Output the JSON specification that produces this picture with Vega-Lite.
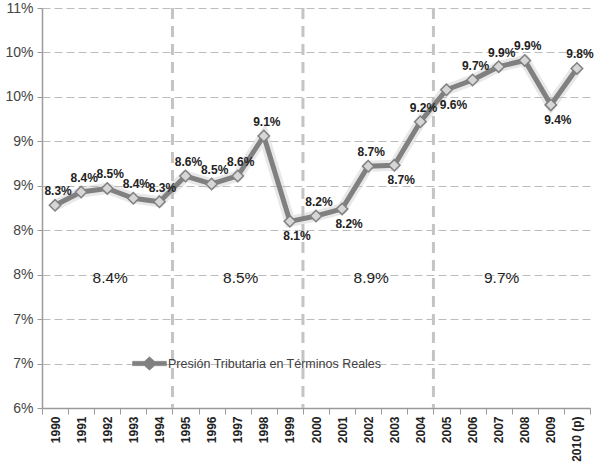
{
  "$schema": "https://vega.github.io/schema/vega-lite/v6.json",
  "width": 548,
  "height": 400,
  "autosize": {"type": "none"},
  "padding": {"left": 42, "top": 8, "right": 11, "bottom": 54},
  "background": "white",
  "config": {
    "view": {"stroke": null},
    "font": "Liberation Sans"
  },
  "datasets": {
    "serie": [
      {"anio": "1990", "valor": 8.28, "etiqueta": "8.3%", "serie": "Presión Tributaria en  Términos Reales"},
      {"anio": "1991", "valor": 8.43, "etiqueta": "8.4%", "serie": "Presión Tributaria en  Términos Reales"},
      {"anio": "1992", "valor": 8.47, "etiqueta": "8.5%", "serie": "Presión Tributaria en  Términos Reales"},
      {"anio": "1993", "valor": 8.36, "etiqueta": "8.4%", "serie": "Presión Tributaria en  Términos Reales"},
      {"anio": "1994", "valor": 8.32, "etiqueta": "8.3%", "serie": "Presión Tributaria en  Términos Reales"},
      {"anio": "1995", "valor": 8.61, "etiqueta": "8.6%", "serie": "Presión Tributaria en  Términos Reales"},
      {"anio": "1996", "valor": 8.52, "etiqueta": "8.5%", "serie": "Presión Tributaria en  Términos Reales"},
      {"anio": "1997", "valor": 8.61, "etiqueta": "8.6%", "serie": "Presión Tributaria en  Términos Reales"},
      {"anio": "1998", "valor": 9.06, "etiqueta": "9.1%", "serie": "Presión Tributaria en  Términos Reales"},
      {"anio": "1999", "valor": 8.1, "etiqueta": "8.1%", "serie": "Presión Tributaria en  Términos Reales"},
      {"anio": "2000", "valor": 8.16, "etiqueta": "8.2%", "serie": "Presión Tributaria en  Términos Reales"},
      {"anio": "2001", "valor": 8.24, "etiqueta": "8.2%", "serie": "Presión Tributaria en  Términos Reales"},
      {"anio": "2002", "valor": 8.72, "etiqueta": "8.7%", "serie": "Presión Tributaria en  Términos Reales"},
      {"anio": "2003", "valor": 8.73, "etiqueta": "8.7%", "serie": "Presión Tributaria en  Términos Reales"},
      {"anio": "2004", "valor": 9.22, "etiqueta": "9.2%", "serie": "Presión Tributaria en  Términos Reales"},
      {"anio": "2005", "valor": 9.58, "etiqueta": "9.6%", "serie": "Presión Tributaria en  Términos Reales"},
      {"anio": "2006", "valor": 9.69, "etiqueta": "9.7%", "serie": "Presión Tributaria en  Términos Reales"},
      {"anio": "2007", "valor": 9.84, "etiqueta": "9.9%", "serie": "Presión Tributaria en  Términos Reales"},
      {"anio": "2008", "valor": 9.91, "etiqueta": "9.9%", "serie": "Presión Tributaria en  Términos Reales"},
      {"anio": "2009", "valor": 9.41, "etiqueta": "9.4%", "serie": "Presión Tributaria en  Términos Reales"},
      {"anio": "2010 (p)", "valor": 9.82, "etiqueta": "9.8%", "serie": "Presión Tributaria en  Términos Reales"}
    ],
    "cortes": [
      {"anio": "1995"},
      {"anio": "2000"},
      {"anio": "2005"}
    ],
    "promedios": [
      {"anio": "1992", "texto": "8.4%"},
      {"anio": "1997", "texto": "8.5%"},
      {"anio": "2002", "texto": "8.9%"},
      {"anio": "2007", "texto": "9.7%"}
    ]
  },
  "layer": [
    {
      "data": {"name": "serie"},
      "mark": {"type": "line", "stroke": "#bdbdbd", "strokeWidth": 11, "opacity": 0.35},
      "encoding": {
        "x": {
          "field": "anio", "type": "nominal", "sort": "ascending",
          "scale": {"type": "band", "paddingInner": 0, "paddingOuter": 0},
          "axis": {
            "title": null,
            "labelAngle": -90,
            "labelFont": "Liberation Sans",
            "labelFontWeight": "bold",
            "labelFontSize": 12,
            "labelColor": "#222222",
            "labelPadding": 2,
            "tickBand": "extent",
            "tickColor": "#9a9a9a",
            "tickSize": 6,
            "domainColor": "#9a9a9a",
            "domainWidth": 1.5,
            "grid": false
          }
        },
        "y": {
          "field": "valor", "type": "quantitative",
          "scale": {"domain": [6, 10.5], "nice": false, "zero": false},
          "axis": {
            "title": null,
            "values": [6, 6.5, 7, 7.5, 8, 8.5, 9, 9.5, 10, 10.5],
            "labelExpr": "format(datum.value, '.0f') + '%'",
            "labelFontSize": 14,
            "labelColor": "#444444",
            "labelPadding": 4,
            "tickColor": "#9a9a9a",
            "tickSize": 5,
            "domainColor": "#9a9a9a",
            "domainWidth": 1.5,
            "grid": true,
            "gridColor": "#bcbcbc",
            "gridDash": [8, 4],
            "gridWidth": 1
          }
        }
      }
    },
    {
      "data": {"name": "cortes"},
      "mark": {"type": "rule", "stroke": "#c4c4c4", "strokeWidth": 3, "strokeDash": [11, 7]},
      "encoding": {
        "x": {"field": "anio", "type": "nominal", "bandPosition": 0}
      }
    },
    {
      "data": {"name": "serie"},
      "mark": {"type": "line", "strokeWidth": 5},
      "encoding": {
        "x": {"field": "anio", "type": "nominal"},
        "y": {"field": "valor", "type": "quantitative"},
        "color": {
          "field": "serie", "type": "nominal",
          "scale": {"range": ["#808080"]},
          "legend": {
            "title": null,
            "orient": "none",
            "legendX": 90,
            "legendY": 338,
            "symbolType": "M-1,-0.13L-0.3,-0.13L0,-0.4L0.3,-0.13L1,-0.13L1,0.13L0.3,0.13L0,0.4L-0.3,0.13L-1,0.13Z",
            "symbolSize": 1150,
            "symbolFillColor": "#808080",
            "symbolStrokeColor": "#808080",
            "symbolStrokeWidth": 0.5,
            "labelFontSize": 12.5,
            "labelColor": "#404040",
            "labelOffset": 1,
            "labelLimit": 400
          }
        }
      }
    },
    {
      "data": {"name": "serie"},
      "mark": {"type": "point", "shape": "diamond", "filled": true, "fill": "#d6d6d6", "stroke": "#808080", "strokeWidth": 1.5, "size": 130, "opacity": 1},
      "encoding": {
        "x": {"field": "anio", "type": "nominal"},
        "y": {"field": "valor", "type": "quantitative"}
      }
    },
    {
      "data": {"name": "serie"},
      "transform": [{"filter": "indexof(['1999','2001','2003','2005','2009'], datum.anio) < 0"}],
      "mark": {"type": "text", "font": "Liberation Sans", "fontWeight": "bold", "fontSize": 12, "color": "#222222", "dy": -14, "dx": 3},
      "encoding": {
        "x": {"field": "anio", "type": "nominal"},
        "y": {"field": "valor", "type": "quantitative"},
        "text": {"field": "etiqueta"}
      }
    },
    {
      "data": {"name": "serie"},
      "transform": [{"filter": "indexof(['1999','2001','2003','2005','2009'], datum.anio) >= 0"}],
      "mark": {"type": "text", "font": "Liberation Sans", "fontWeight": "bold", "fontSize": 12, "color": "#222222", "dy": 15, "dx": 7},
      "encoding": {
        "x": {"field": "anio", "type": "nominal"},
        "y": {"field": "valor", "type": "quantitative"},
        "text": {"field": "etiqueta"}
      }
    },
    {
      "data": {"name": "promedios"},
      "mark": {"type": "text", "fontSize": 15.5, "color": "#222222", "baseline": "middle", "dy": 3, "dx": 3},
      "encoding": {
        "x": {"field": "anio", "type": "nominal"},
        "y": {"datum": 7.5},
        "text": {"field": "texto"}
      }
    }
  ]
}
